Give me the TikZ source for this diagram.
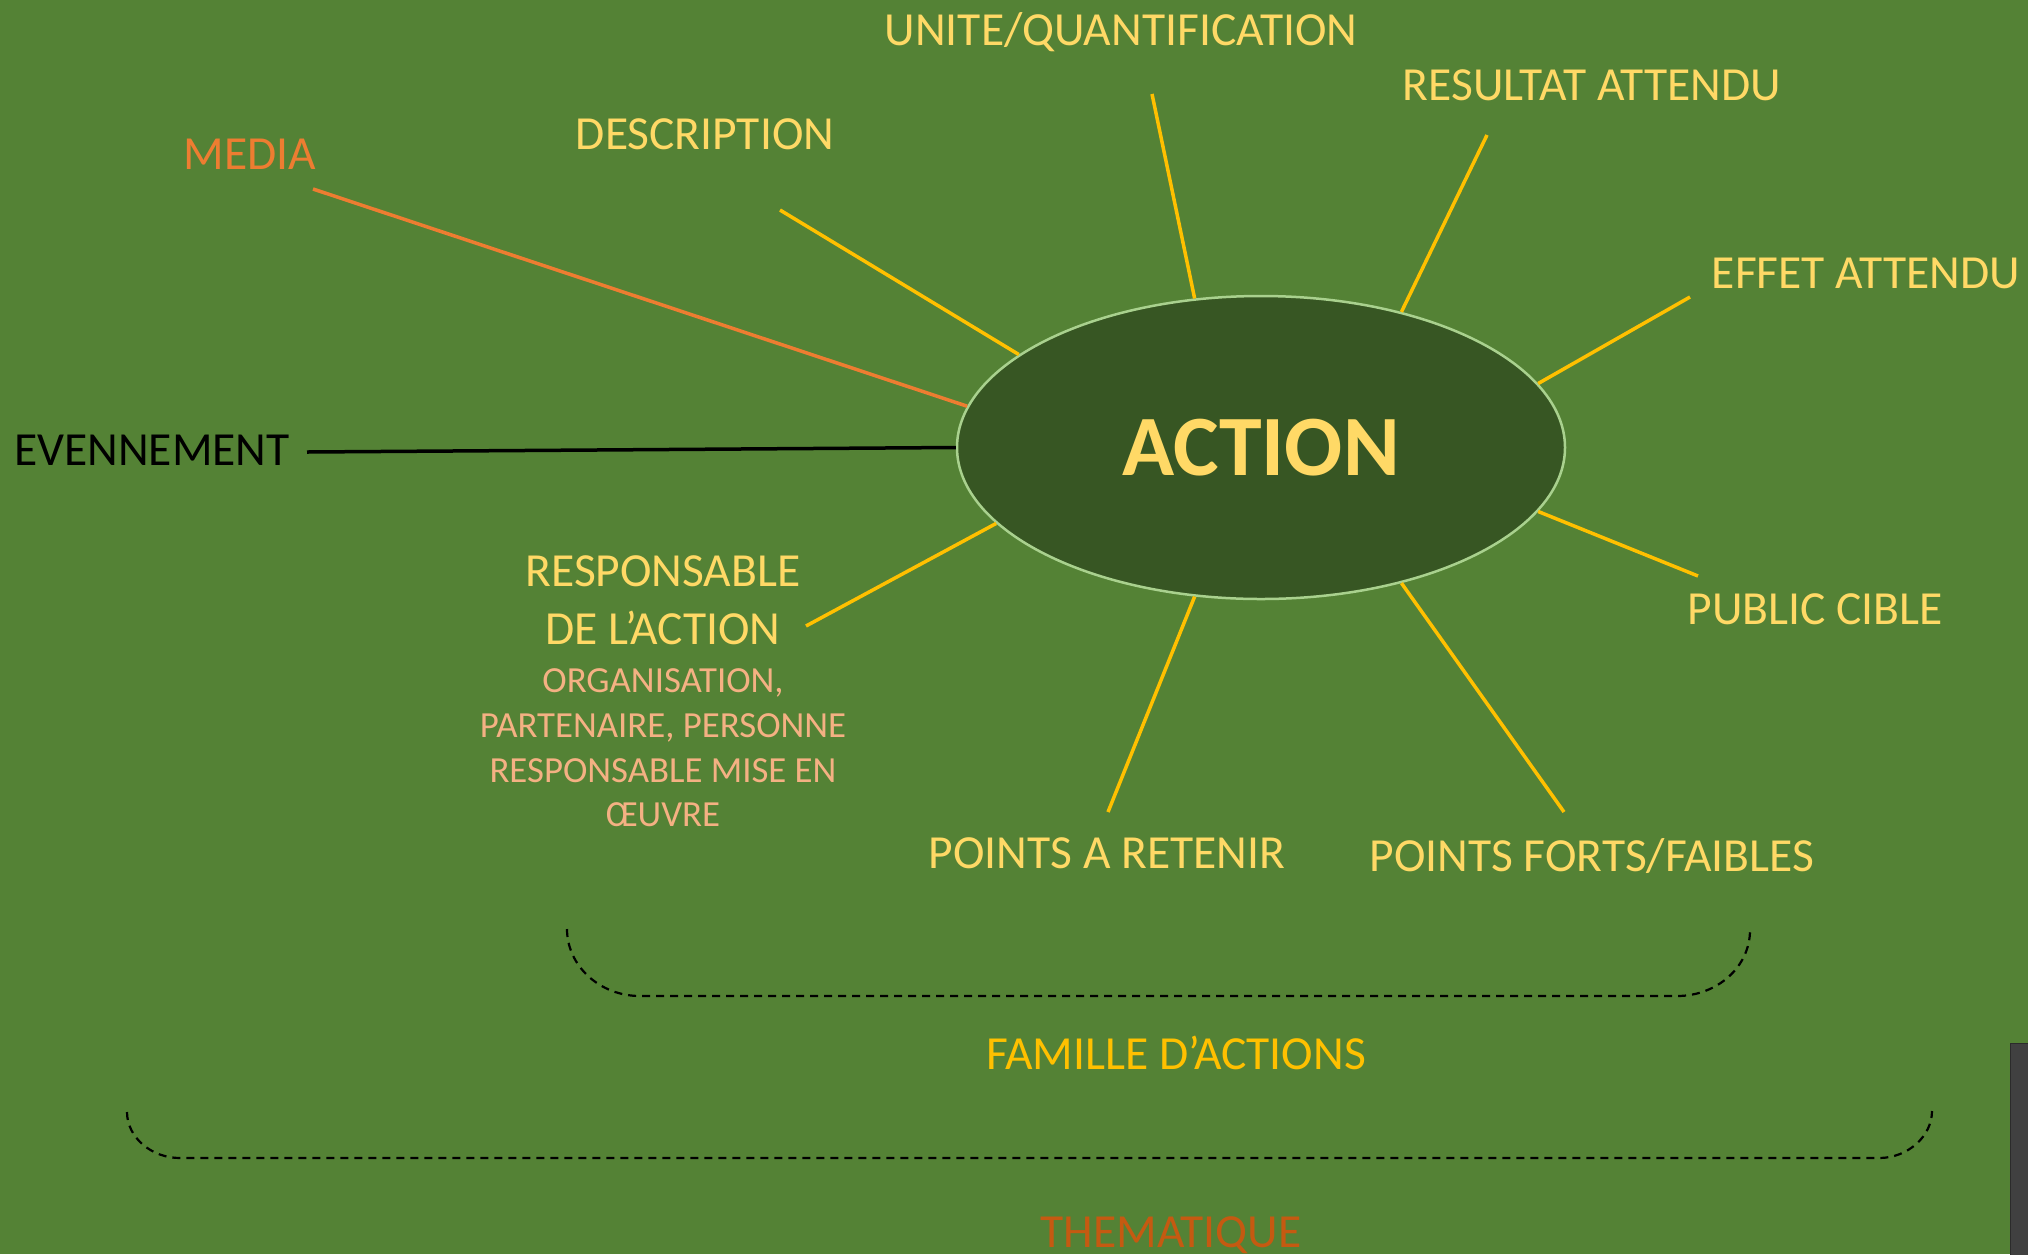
\documentclass[tikz,border=0pt]{standalone}
\usepackage{fontspec}
\setmainfont{Carlito}
\usetikzlibrary{shapes.geometric}
\definecolor{bg}{HTML}{548235}
\definecolor{ellfill}{HTML}{375623}
\definecolor{ellline}{HTML}{A9D18E}
\definecolor{ytext}{HTML}{FFD966}
\definecolor{yline}{HTML}{FFC000}
\definecolor{otext}{HTML}{ED7D31}
\definecolor{thtext}{HTML}{C55A11}
\definecolor{ptext}{HTML}{F4B183}
\definecolor{darkbar}{HTML}{404040}
\definecolor{darkedge}{HTML}{2B2B2B}
\tikzset{
  lbl/.style={anchor=base, inner sep=0pt, text=ytext, font=\fontsize{47.5}{57}\selectfont},
  pinklbl/.style={anchor=base, inner sep=0pt, text=ptext, font=\fontsize{36.8}{45}\selectfont},
  yconn/.style={draw=yline, line width=3.5pt},
  brace/.style={draw=black, line width=2.2pt, dash pattern=on 8pt off 6pt},
}
\begin{document}
\begin{tikzpicture}[x=1pt,y=-1pt]
\fill[bg] (0,0) rectangle (2028,1254);
\useasboundingbox (0,0) rectangle (2028,1254);
\fill[darkbar] (2010,1043) rectangle (2028,1256);
\draw[darkedge, line width=1.5pt] (2010.5,1256) -- (2010.5,1043.5) -- (2030,1043.5);

% central ellipse
\node[ellipse, draw=ellline, fill=ellfill, line width=2.5pt, inner sep=0pt,
      minimum width=608pt, minimum height=303pt, text=ytext,
      font=\fontsize{86}{100}\selectfont\bfseries] (act) at (1261,447.5) {ACTION};

% labels
\node[lbl] (unite) at (1121,45) {UNITE/QUANTIFICATION};
\node[lbl] (resul) at (1592,100) {RESULTAT ATTENDU};
\node[lbl] (effet) at (1866,288) {EFFET ATTENDU};
\node[lbl] (public) at (1815,624) {PUBLIC CIBLE};
\node[lbl] (forts) at (1592,871) {POINTS FORTS/FAIBLES};
\node[lbl] (retenir) at (1107,868) {POINTS A RETENIR};
\node[lbl] (descr) at (705,149) {DESCRIPTION};
\node[lbl, text=otext] (media) at (250,169) {MEDIA};
\node[lbl, text=black, anchor=base west] (even) at (14,465) {EVENNEMENT};
\node[lbl] (resp1) at (663,586) {RESPONSABLE};
\node[lbl] (resp2) at (663,644) {DE L’ACTION};
\node[pinklbl] (org1) at (663,692) {ORGANISATION,};
\node[pinklbl] (org2) at (663,737) {PARTENAIRE, PERSONNE};
\node[pinklbl] (org3) at (663,782) {RESPONSABLE MISE EN};
\node[pinklbl] (org4) at (663,826) {ŒUVRE};
\node[lbl, text=yline] (famille) at (1176,1069) {FAMILLE D’ACTIONS};
\node[lbl, text=thtext] (thema) at (1171,1247) {THEMATIQUE};

% free ends of connectors
\coordinate (cU) at (1152,94);
\coordinate (cR) at (1487,135);
\coordinate (cE) at (1690,297);
\coordinate (cP) at (1698,576);
\coordinate (cF) at (1564,812);
\coordinate (cT) at (1108,812);
\coordinate (cRe) at (806,626);
\coordinate (cEv) at (307,452);
\coordinate (cM) at (313,189);
\coordinate (cD) at (780,210);

\draw[yconn] (cU) -- (act.114.4);
\draw[yconn] (cR) -- (act.44.3);
\draw[yconn] (cE) -- (act.13.9);
\draw[yconn] (cP) -- (act.-13.1);
\draw[yconn] (cF) -- (act.-44.3);
\draw[yconn] (cT) -- (act.-114.3);
\draw[yconn] (cRe) -- (act.196.7);
\draw[yconn] (cD) -- (act.159.6);
\draw[draw=otext, line width=3.5pt] (cM) -- (act.172.2);
\draw[draw=black, line width=3.5pt] (cEv) -- (act.180);

% braces
\coordinate (b1s) at (567,929);
\coordinate (b1e) at (1750,930);
\draw[brace] (b1s) .. controls (567,966) and (600,996) .. (640,996)
   -- (1677,996) .. controls (1717,996) and (1750,967) .. (b1e);
\coordinate (b2s) at (127,1112);
\coordinate (b2e) at (1932,1111);
\draw[brace] (b2s) .. controls (127,1137) and (151,1158) .. (180,1158)
   -- (1879,1158) .. controls (1908,1158) and (1932,1136) .. (b2e);
\end{tikzpicture}
\end{document}
